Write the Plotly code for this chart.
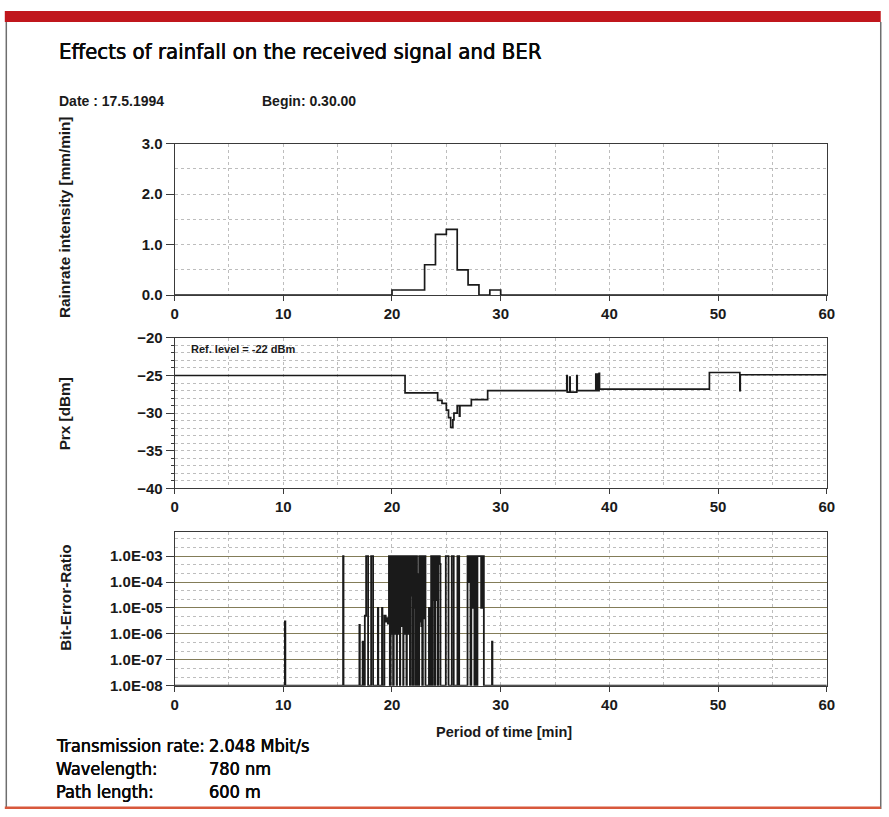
import plotly.graph_objects as go

W, H = 889, 817

# ---------------- data ----------------
rain_t = [0, 20, 23, 24, 25, 26, 27, 28, 29, 30, 60]
rain_v = [0.0, 0.1, 0.6, 1.2, 1.3, 0.5, 0.2, 0.0, 0.1, 0.0, 0.0]

prx_t = [0, 21.2, 24.2, 24.6, 25.0, 25.2, 25.4, 25.6, 25.7, 26.0, 26.2, 26.25, 27.3, 28.8,
         36.08, 36.12, 36.35, 36.39, 37.0, 37.04, 38.75, 38.79, 38.9, 38.94, 39.05, 39.09,
         49.2, 52.0, 52.04, 60]
prx_v = [-25.0, -27.3, -28.3, -28.7, -29.6, -30.6, -31.9, -30.9, -30.0, -29.0, -30.4, -29.0, -28.2, -27.0,
         -25.0, -27.2, -25.2, -27.2, -25.0, -27.0, -24.8, -27.0, -24.8, -27.0, -24.7, -26.8,
         -24.6, -27.0, -24.9, -24.9]

ber_t = [0, 10.15, 10.19, 15.5, 15.54, 17.0, 17.04, 17.3, 17.34, 17.5, 17.62, 17.8, 18.08, 18.26,
         18.7, 18.74, 19.08, 19.12, 19.3, 19.42, 19.52, 19.62, 19.72, 19.8, 19.88, 19.96,
         20.02, 20.1,
         20.16, 20.19, 20.22, 20.25, 20.28, 20.31, 20.34, 20.37, 20.40, 20.43, 20.46, 20.49,
         20.52, 20.55, 20.58, 20.61, 20.64, 20.67, 20.70, 20.73, 20.76, 20.79, 20.82, 20.85,
         20.88, 20.91, 20.94, 20.97, 21.00, 21.03, 21.06, 21.09, 21.12, 21.15, 21.18, 21.21,
         21.24, 21.27, 21.30, 21.33, 21.37, 21.40, 21.43, 21.46, 21.49, 21.52, 21.55, 21.58,
         21.62, 21.65, 21.72, 21.78, 21.84, 21.9, 21.98, 22.04, 22.1, 22.16, 22.25, 22.3,
         22.35, 22.4, 22.5, 22.54, 22.58, 22.62, 22.66, 22.7, 22.74, 22.78, 22.84, 22.88,
         22.92, 22.96, 23.0, 23.08,
         23.4, 23.44, 23.6, 23.68, 23.74, 23.8, 23.86, 23.92, 23.98, 24.05, 24.12, 24.2,
         24.26, 24.4, 24.46, 24.95, 25.2, 25.5, 25.68, 26.02, 26.18, 26.95, 27.05, 27.12,
         27.22, 27.3, 27.34, 27.38, 27.42, 27.46, 27.5, 27.54, 27.58, 27.64, 27.68, 27.72,
         27.76, 27.86, 28.2, 28.3, 28.45, 29.2, 29.24, 60]
ber_v = [1e-8, 3e-6, 1e-8, 1e-3, 1e-8, 2.2e-6, 1e-8, 5e-7, 1e-8, 5e-6, 1e-3, 1e-8, 1e-3, 1e-8,
         1e-5, 1e-8, 1e-5, 1e-8, 5e-6, 3e-6, 4e-6, 2.5e-6, 1e-3, 1e-8, 1e-3, 1e-6,
         1e-3, 1e-8,
         1e-3, 3e-6, 1e-3, 1e-5, 1e-3, 1e-6, 2e-4, 5e-6, 1e-3, 1e-8, 1e-3, 2e-5,
         1e-3, 3e-6, 1e-4, 1e-6, 1e-3, 1e-5, 1e-3, 1e-8, 1e-3, 4e-6, 3e-4, 1e-5,
         1e-3, 2e-6, 1e-3, 3e-5, 1e-3, 1e-8, 1e-3, 5e-6, 1e-4, 1e-6, 1e-3, 2e-5,
         1e-3, 3e-6, 1e-3, 1e-8, 1e-3, 1e-5, 1e-3, 4e-6, 2e-4, 1e-6, 1e-3, 3e-5,
         1e-3, 1e-8, 1e-3, 3e-5, 1e-3, 1e-8, 1e-3, 1e-5, 1e-3, 1e-8, 1e-3, 1e-5,
         2e-4, 1e-8, 1e-3, 3e-6, 1e-3, 1e-5, 1e-3, 2e-6, 1e-4, 1e-8, 1e-3, 2e-5,
         1e-3, 4e-6, 1e-3, 1e-8,
         1e-5, 1e-8, 1e-3, 1e-8, 1e-3, 2e-5, 1e-3, 1e-8, 1e-3, 2e-5, 1e-3, 1e-8,
         1e-3, 5e-4, 1e-8, 1e-3, 1e-8, 1e-3, 1e-8, 1e-3, 1e-8, 1e-3, 1e-4, 1e-3,
         1e-8, 1e-3, 3e-4, 1e-3, 1e-5, 1e-3, 2e-5, 1e-3, 1e-8, 1e-3, 1e-5, 1e-3,
         1e-8, 1e-3, 1e-5, 1e-3, 1e-8, 5e-7, 1e-8, 1e-8]

x_ticks = [0, 10, 20, 30, 40, 50, 60]
rain_ticks = [0.0, 1.0, 2.0, 3.0]
prx_ticks = [-40, -35, -30, -25, -20]
ber_ticks = [1e-8, 1e-7, 1e-6, 1e-5, 1e-4, 1e-3]
ber_tick_text = ["1.0E-08", "1.0E-07", "1.0E-06", "1.0E-05", "1.0E-04", "1.0E-03"]

# positions are given in target-picture pixels and mapped through the
# measured capture transform (capture x = 4.2 + 0.9877*x, y = 7.0 + 0.9825*y)
SX, OX, SY, OY = 0.9877, 4.2, 0.9825, 7.0


def px(x):
    return min(max(((x - OX) / SX) / W, 0), 1)


def py(y):
    return min(max(1 - ((y - OY) / SY) / H, 0), 1)


LINE = "#1a1a1a"
GRID = "#bdbdbd"
AX = "#3a3a3a"
SANS = "Liberation Sans, Arial, sans-serif"
BOLD = dict(family=SANS, size=15, color="#1a1a1a", weight="bold")
NARROW = "Liberation Sans Narrow, DejaVu Sans Condensed, Arial Narrow, Liberation Sans, sans-serif"
HEAVY = "0.2px 0 0 #0a0a0a, -0.2px 0 0 #0a0a0a"

fig = go.Figure()
fig.add_trace(go.Scatter(x=rain_t, y=rain_v, mode="lines", line=dict(shape="hv", color=LINE, width=1.7),
                         xaxis="x", yaxis="y", hoverinfo="skip"))
fig.add_trace(go.Scatter(x=prx_t, y=prx_v, mode="lines", line=dict(shape="hv", color=LINE, width=1.7),
                         xaxis="x2", yaxis="y2", hoverinfo="skip"))
fig.add_trace(go.Scatter(x=ber_t, y=ber_v, mode="lines", line=dict(shape="hv", color=LINE, width=1.8),
                         xaxis="x3", yaxis="y3", hoverinfo="skip"))

xdom = [px(175), px(828)]


def xaxis(anchor):
    return dict(domain=xdom, anchor=anchor, range=[0, 60], tickvals=x_ticks,
                ticks="outside", ticklen=5, tickcolor=AX, tickwidth=1,
                showline=True, linecolor=AX, linewidth=1, mirror=True,
                showgrid=True, gridcolor=GRID, griddash="dot", gridwidth=1,
                minor=dict(dtick=5, tick0=0, showgrid=True, gridcolor=GRID, griddash="dot", gridwidth=1),
                tickfont=BOLD, zeroline=False, fixedrange=True)


layout_kwargs = dict(
    width=W, height=H, margin=dict(l=0, r=0, t=0, b=0),
    paper_bgcolor="white", plot_bgcolor="white", showlegend=False,
    xaxis=xaxis("y"), xaxis2=xaxis("y2"), xaxis3=xaxis("y3"),
    yaxis=dict(domain=[py(294), py(142)], anchor="x", range=[0, 3], tickvals=rain_ticks,
               tickformat=".1f", ticks="outside", ticklen=8, tickcolor=AX,
               showline=True, linecolor=AX, linewidth=1, mirror=True,
               showgrid=True, gridcolor=GRID, griddash="dot",
               minor=dict(dtick=0.5, tick0=0, showgrid=True, gridcolor=GRID, griddash="dot"),
               tickfont=BOLD, zeroline=False),
    yaxis2=dict(domain=[py(488), py(337)], anchor="x2", range=[-40, -20], tickvals=prx_ticks,
                ticks="outside", ticklen=8, tickcolor=AX,
                showline=True, linecolor=AX, linewidth=1, mirror=True,
                showgrid=True, gridcolor=GRID, griddash="dot",
                minor=dict(dtick=1, tick0=0, showgrid=True, gridcolor=GRID, griddash="dot",
                           ticks="outside", ticklen=3, tickcolor=AX),
                tickfont=BOLD, zeroline=False),
    yaxis3=dict(domain=[py(686), py(532)], anchor="x3", type="log", range=[-8, -2.08],
                tickvals=ber_ticks, ticktext=ber_tick_text,
                ticks="outside", ticklen=8, tickcolor=AX,
                showline=True, linecolor=AX, linewidth=1, mirror=True,
                showgrid=True, gridcolor="#837c58", griddash="solid", gridwidth=1,
                minor=dict(tickmode="array",
                           tickvals=[10 ** (-8 + k / 3) for k in range(0, 18) if k % 3 != 0],
                           showgrid=True, gridcolor=GRID, griddash="dot"),
                tickfont=BOLD, zeroline=False),
)
fig.update_layout(**layout_kwargs)

# frame
shapes = [
    dict(type="rect", xref="paper", yref="paper", x0=px(5), x1=px(882), y0=py(20), y1=py(9),
         fillcolor="#c0161c", line=dict(width=0), layer="above"),
    dict(type="line", xref="paper", yref="paper", x0=px(6.5), x1=px(6.5), y0=py(20), y1=py(815),
         line=dict(color="#6e6e6e", width=1.5)),
    dict(type="line", xref="paper", yref="paper", x0=px(882), x1=px(882), y0=py(20), y1=py(815),
         line=dict(color="#6e6e6e", width=1.5)),
    dict(type="line", xref="paper", yref="paper", x0=px(5), x1=px(882), y0=py(815) + 1.2 / H,
         y1=py(815) + 1.2 / H, line=dict(color="#d8583c", width=2.5)),
]
fig.update_layout(shapes=shapes)

ann = []


def text(x, y, s, size, family, bold=False, xanchor="left", angle=0, color="#1a1a1a", shadow=None):
    f = dict(family=family, size=size, color=color)
    if bold:
        f["weight"] = "bold"
    if shadow:
        f["shadow"] = shadow
    ann.append(dict(x=px(x), y=py(y), xref="paper", yref="paper", text=s, showarrow=False,
                    xanchor=xanchor, yanchor="middle", font=f, textangle=angle))


text(57, 50, "Effects of rainfall on the received signal and BER", 22, NARROW, color="#0a0a0a", shadow=HEAVY)
text(57, 99, "Date : 17.5.1994", 14, SANS, bold=True)
text(261, 99, "Begin: 0.30.00", 14, SANS, bold=True)
text(65, 216, "Rainrate intensity [mm/min]", 15.3, SANS, bold=True, xanchor="center", angle=-90)
text(65, 413, "Prx [dBm]", 15.3, SANS, bold=True, xanchor="center", angle=-90)
text(65, 598, "Bit-Error-Ratio", 15.3, SANS, bold=True, xanchor="center", angle=-90)
text(189, 348, "Ref. level = -22 dBm", 11, SANS, bold=True)
text(505, 732, "Period of time [min]", 14.5, SANS, bold=True, xanchor="center")
text(54, 746, "Transmission rate:", 18, NARROW, color="#0a0a0a", shadow=HEAVY)
text(54, 769, "Wavelength:", 18, NARROW, color="#0a0a0a", shadow=HEAVY)
text(54, 792, "Path length:", 18, NARROW, color="#0a0a0a", shadow=HEAVY)
text(207, 746, "2.048 Mbit/s", 18, NARROW, color="#0a0a0a", shadow=HEAVY)
text(207, 769, "780 nm", 18, NARROW, color="#0a0a0a", shadow=HEAVY)
text(207, 792, "600 m", 18, NARROW, color="#0a0a0a", shadow=HEAVY)
fig.update_layout(annotations=ann)

fig.write_html("out.html")
